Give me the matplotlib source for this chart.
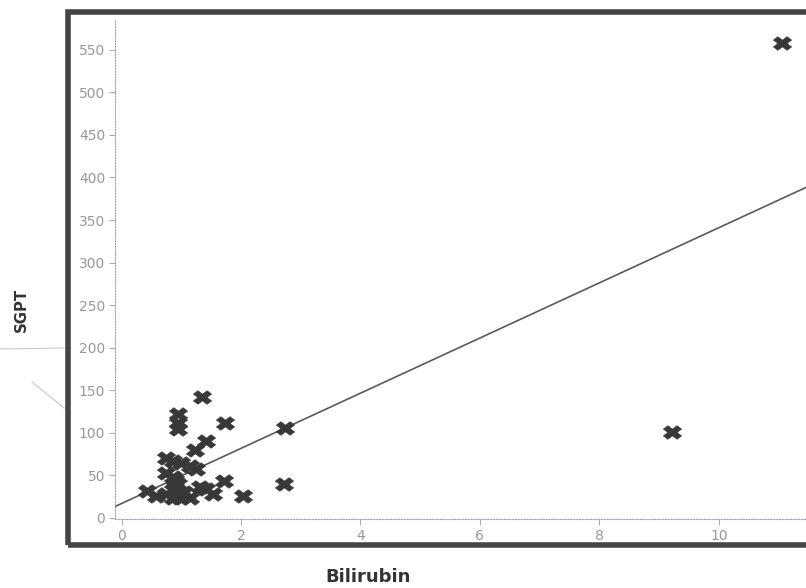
import matplotlib.pyplot as plt
from matplotlib.patches import Rectangle
from matplotlib.markers import MarkerStyle
from matplotlib.path import Path
from matplotlib.lines import Line2D

# bilirubin vs SGPT readings
bilirubin = [11.06, 9.21, 2.74, 2.72, 2.03, 1.74, 1.72, 1.34, 1.42, 1.23,
             0.95, 0.95, 0.95, 0.75, 0.86, 1.00, 1.14, 1.25, 0.74, 0.86,
             0.94, 0.42, 0.58, 0.75, 0.86, 0.97, 1.14, 1.31, 1.42, 1.53,
             0.86, 0.90, 1.05]
sgpt = [558, 101, 106, 40, 26, 112, 43, 142, 91, 80,
        122, 112, 104, 71, 67, 65, 61, 57, 53, 48,
        40, 32, 26, 28, 33, 24, 24, 36, 34, 28,
        24, 45, 30]

# fitted trend line
intercept = 17
slope = 32.4

x_ticks = [0, 2, 4, 6, 8, 10]
y_ticks = list(range(0, 551, 50))

# a filled X, a little wider than tall
xv = MarkerStyle("X").get_path().vertices.copy()
xv[:, 0] *= 1.35
wide_x = Path(xv, MarkerStyle("X").get_path().codes)

fig = plt.figure(figsize=(8.06, 5.88), dpi=100)
W, H = 806, 588
ax = fig.add_axes([115 / W, 1 - 519 / H, 1 - 115 / W, (519 - 20) / H])

ax.scatter(bilirubin, sgpt, marker=wide_x, s=175, color="#383838",
           edgecolors="#383838", linewidths=0.4, zorder=3)

xl = (-0.11, 11.46)
ax.plot(xl, [intercept + slope * v for v in xl], color="#5a5a5a", lw=1.2, zorder=2)

ax.set_xlim(*xl)
ax.set_ylim(-1.2, 585)
ax.set_xticks(x_ticks)
ax.set_yticks(y_ticks)

for side in ("top", "right"):
    ax.spines[side].set_visible(False)
for side in ("left", "bottom"):
    ax.spines[side].set_linestyle((0, (1, 1.5)))
    ax.spines[side].set_color("#a0a0bc")
    ax.spines[side].set_linewidth(0.8)

ax.tick_params(colors="#a8a8a8", labelcolor="#999999", labelsize=10,
               length=4, width=0.7, pad=3)

fig.text(21 / W, 1 - 310 / H, "SGPT", rotation=90, ha="center", va="center",
         fontsize=10.7, fontweight="bold", color="#333333")
fig.text(368 / W, 1 - 577 / H, "Bilirubin", ha="center", va="center",
         fontsize=13, fontweight="bold", color="#333333")

# heavy frame around the plot, running off the right edge
frame = Rectangle((68 / W, 1 - 545 / H), 1.2, (545 - 12) / H,
                  transform=fig.transFigure, fill=False, edgecolor="#454545",
                  linewidth=4, clip_on=False)
fig.patches.append(frame)

# faint stray strokes left of the frame
fig.lines.append(Line2D([0, 64 / W], [1 - 349 / H, 1 - 348 / H],
                        transform=fig.transFigure, color="#c8c8c8", lw=0.8))
fig.lines.append(Line2D([32 / W, 64 / W], [1 - 382 / H, 1 - 408 / H],
                        transform=fig.transFigure, color="#c8c8c8", lw=0.8))

fig.savefig("out.png", dpi=100)
